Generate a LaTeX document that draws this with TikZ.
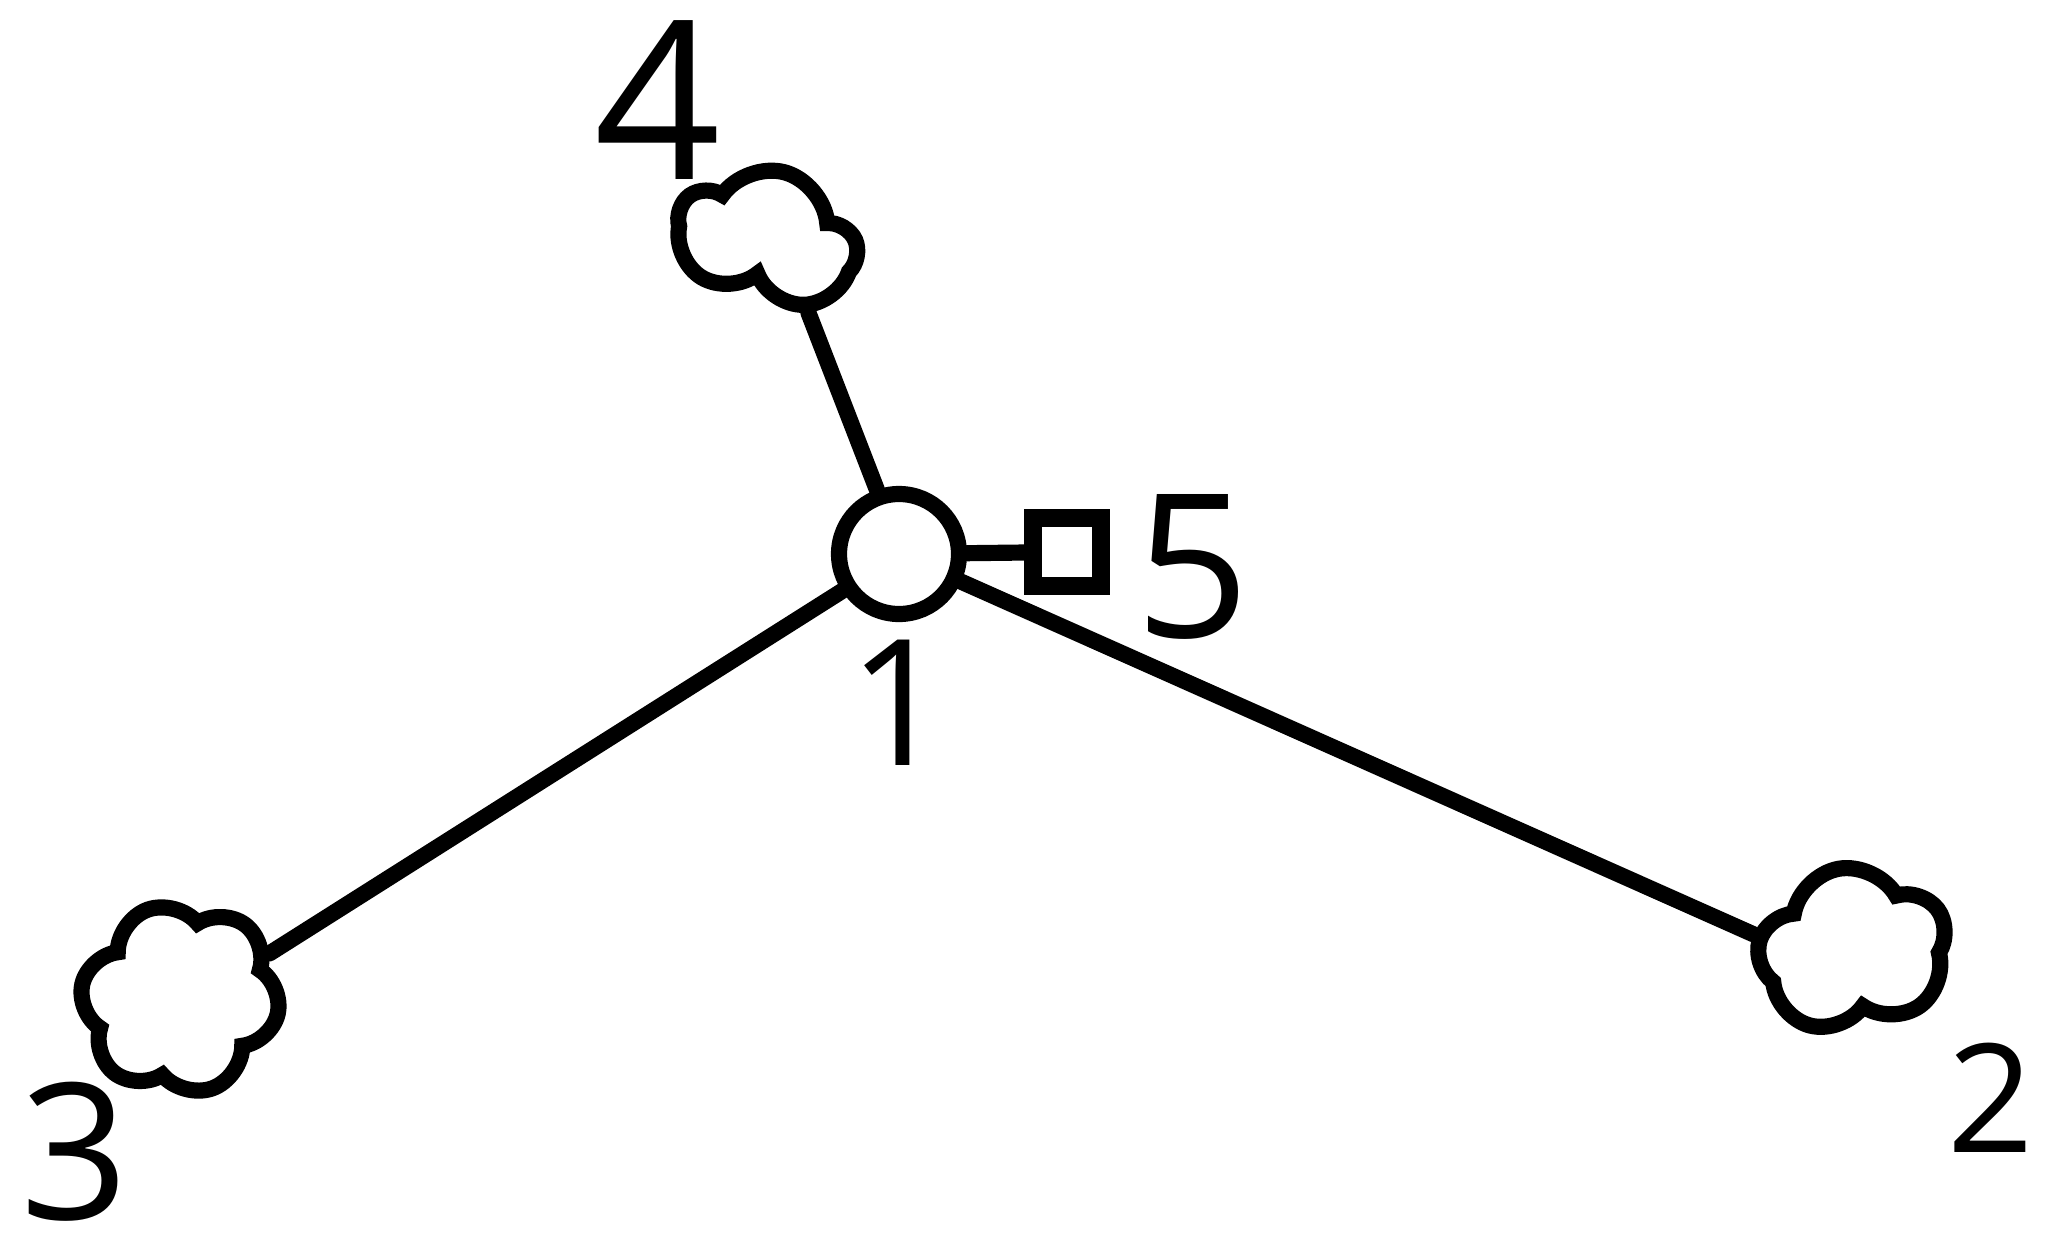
\documentclass[tikz,border=0pt]{standalone}
\usepackage{fontspec}
\setmainfont{Open Sans}
\usetikzlibrary{positioning,shapes.symbols}

\begin{document}
\begin{tikzpicture}[
  wire/.style={line width=4.6pt, line cap=round},
  hub/.style={circle, draw, line width=4.6pt, minimum size=1.2cm, inner sep=0pt},
  port/.style={rectangle, draw, line width=5pt, minimum size=0.68cm, inner sep=0pt},
  blob/.style={cloud, draw, line width=4.6pt, cloud puffs=#1, cloud puff arc=140, inner sep=0pt},
  num/.style={font=\fontsize{#1}{#1}\selectfont, inner sep=0pt},
  node distance=0.2cm
]
\useasboundingbox (0,0) rectangle (20.56,-12.47);
% centre and its port
\node[hub] (c1) at (8.99,-5.54) {};
\node[port] (sq) at (10.67,-5.52) {};
\node[num=57, right=0.25cm of sq, yshift=-0.15cm] (l5) {5};
\node[num=50, below=0.17cm of c1] (l1) {1};
% the three blobs
\node[blob=5, minimum width=1.8cm, minimum height=1.36cm, rotate=-15] (c4) at (7.67,-2.38) {};
\node[blob=6, minimum width=2.0cm, minimum height=1.9cm, rotate=20] (c3) at (1.80,-9.99) {};
\node[blob=5, minimum width=1.9cm, minimum height=1.65cm, rotate=10] (c2) at (18.53,-9.50) {};
\node[num=63] (l4) at (6.58,-1.00) {4};
\node[num=54] (l3) at (0.75,-11.52) {3};
\node[num=43] (l2) at (19.91,-10.98) {2};
% spokes
\draw[wire] (c1) -- (sq);
\draw[wire] (c1.109) -- (c4.-46);
\draw[wire] (c1.213) -- (c3.7);
\draw[wire] (c1.-24) -- (c2.161);
\end{tikzpicture}
\end{document}
